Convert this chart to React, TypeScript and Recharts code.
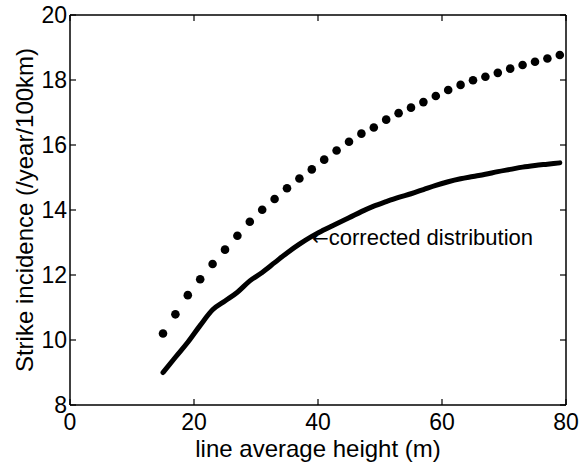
import React from 'react';
import {
  ComposedChart,
  Line,
  XAxis,
  YAxis,
  ReferenceDot,
} from 'recharts';

// line average height (m)
const heights = [15, 17, 19, 21, 23, 25, 27, 29, 31, 33, 35, 37, 39, 41, 43, 45, 47, 49, 51, 53, 55, 57, 59, 61, 63, 65, 67, 69, 71, 73, 75, 77, 79];
// dotted curve (uncorrected)
const dottedSeries = [10.2, 10.79, 11.38, 11.87, 12.34, 12.78, 13.21, 13.64, 14.01, 14.34, 14.67, 14.97, 15.25, 15.55, 15.83, 16.1, 16.35, 16.54, 16.78, 16.98, 17.15, 17.32, 17.51, 17.69, 17.85, 17.99, 18.1, 18.22, 18.35, 18.46, 18.56, 18.66, 18.77];
// solid curve (corrected distribution)
const correctedSeries = [9.0, 9.47, 9.93, 10.45, 10.93, 11.2, 11.47, 11.82, 12.08, 12.38, 12.68, 12.95, 13.19, 13.39, 13.58, 13.76, 13.95, 14.12, 14.26, 14.39, 14.5, 14.63, 14.76, 14.87, 14.96, 15.03, 15.1, 15.18, 15.25, 15.32, 15.37, 15.41, 15.45];

const xTicks = [0, 20, 40, 60, 80];
const yTicks = [8, 10, 12, 14, 16, 18, 20];

const annotationText = 'corrected distribution';
const annotationPoint = { x: 39.2, y: 13.12 };

const xTitle = 'line average height (m)';
const yTitle = 'Strike incidence (/year/100km)';

const data = heights.map((h, i) => ({
  h,
  dotted: dottedSeries[i],
  corrected: correctedSeries[i],
}));

const FONT = '"Liberation Sans", Arial, Helvetica, sans-serif';

const EmptyTick = () => <g />;

const XTitle = (props: any) => {
  const vb = props.viewBox || { x: 70, y: 405, width: 496, height: 61 };
  return (
    <text
      x={vb.x + vb.width / 2}
      y={vb.y + 52}
      textAnchor="middle"
      fontFamily={FONT}
      fontSize={24}
      fill="#000"
    >
      {xTitle}
    </text>
  );
};

const YTitle = (props: any) => {
  const vb = props.viewBox || { x: 0, y: 15, width: 70, height: 390 };
  const cx = vb.x + 33;
  const cy = vb.y + vb.height / 2;
  return (
    <text
      x={cx}
      y={cy}
      transform={`rotate(-90, ${cx}, ${cy})`}
      textAnchor="middle"
      fontFamily={FONT}
      fontSize={24}
      fill="#000"
    >
      {yTitle}
    </text>
  );
};

const AnnotationLabel = (props: any) => {
  const vb = props.viewBox || { x: 0, y: 0, width: 0, height: 0 };
  const x = vb.x + vb.width / 2;
  const y = vb.y + vb.height / 2;
  return (
    <text x={x - 1} y={y + 6} fontFamily={FONT} fontSize={22} fill="#000">
      <tspan fontFamily='"DejaVu Sans", sans-serif' fontSize={20}>←</tspan>
      <tspan>{annotationText}</tspan>
    </text>
  );
};

const axisCommon = {
  stroke: '#000',
  strokeWidth: 1.5,
  tickSize: -6,
  tickLine: { stroke: '#000', strokeWidth: 1.2 },
  allowDataOverflow: true,
};

export default function App() {
  return (
    <div style={{ position: 'absolute', left: 0, top: 0, background: '#fff' }}>
      <ComposedChart
        width={584}
        height={466}
        data={data}
        margin={{ top: 14, right: 17, left: 0, bottom: 0 }}
      >
        <XAxis
          {...axisCommon}
          dataKey="h"
          type="number"
          domain={[0, 80]}
          ticks={xTicks}
          height={61}
          tickMargin={15}
          tick={{ fill: '#000', fontSize: 23, fontFamily: FONT }}
          label={XTitle}
        />
        <XAxis
          {...axisCommon}
          xAxisId="top"
          orientation="top"
          dataKey="h"
          type="number"
          domain={[0, 80]}
          ticks={xTicks}
          height={1}
          tick={EmptyTick}
        />
        <YAxis
          {...axisCommon}
          type="number"
          domain={[8, 20]}
          ticks={yTicks}
          width={70}
          tickMargin={9}
          tick={{ fill: '#000', fontSize: 23, fontFamily: FONT }}
          label={YTitle}
        />
        <YAxis
          {...axisCommon}
          yAxisId="right"
          orientation="right"
          type="number"
          domain={[8, 20]}
          ticks={yTicks}
          width={1}
          tick={EmptyTick}
        />
        <Line
          dataKey="dotted"
          stroke="none"
          isAnimationActive={false}
          dot={{ r: 4.3, fill: '#000', stroke: 'none' }}
          activeDot={false}
        />
        <Line
          dataKey="corrected"
          type="monotone"
          stroke="#000"
          strokeWidth={5}
          strokeLinecap="round"
          strokeLinejoin="round"
          isAnimationActive={false}
          dot={false}
          activeDot={false}
        />
        <ReferenceDot
          x={annotationPoint.x}
          y={annotationPoint.y}
          r={0}
          fill="none"
          stroke="none"
          label={AnnotationLabel}
        />
      </ComposedChart>
    </div>
  );
}
